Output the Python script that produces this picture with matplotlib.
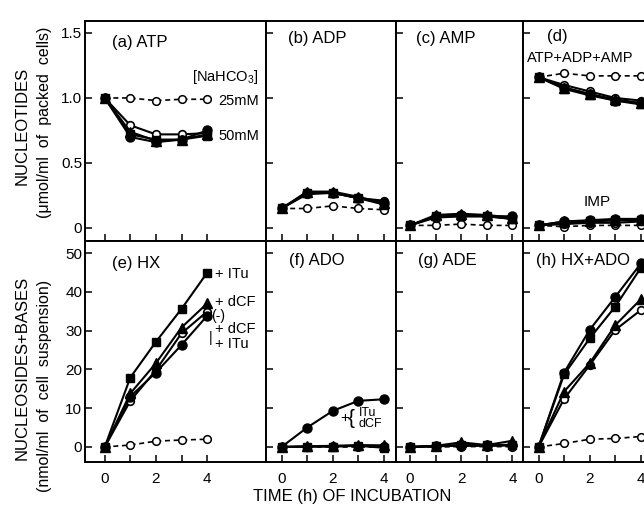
import matplotlib
matplotlib.use("Agg")
import matplotlib.pyplot as plt

plt.rcParams['font.family'] = ['Liberation Sans Narrow', 'Liberation Sans', 'DejaVu Sans']
plt.rcParams['mathtext.default'] = 'regular'

# incubation time (h)
time = [0, 1, 2, 3, 4]

# nucleotides (umol/ml packed cells)
atp_25 = [1.00, 1.00, 0.98, 0.99, 0.99]
atp_none = [1.00, 0.79, 0.72, 0.72, 0.73]
atp_dcf = [1.00, 0.74, 0.67, 0.68, 0.72]
atp_itu = [1.00, 0.72, 0.68, 0.68, 0.71]
atp_both = [1.00, 0.70, 0.66, 0.68, 0.75]

adp_25 = [0.15, 0.15, 0.17, 0.15, 0.14]
adp_none = [0.15, 0.26, 0.27, 0.23, 0.21]
adp_dcf = [0.15, 0.28, 0.28, 0.24, 0.19]
adp_itu = [0.15, 0.27, 0.27, 0.23, 0.18]
adp_both = [0.15, 0.27, 0.27, 0.23, 0.19]

amp_25 = [0.02, 0.02, 0.03, 0.02, 0.02]
amp_none = [0.02, 0.08, 0.09, 0.09, 0.07]
amp_dcf = [0.02, 0.10, 0.11, 0.10, 0.08]
amp_itu = [0.02, 0.09, 0.09, 0.09, 0.07]
amp_both = [0.02, 0.09, 0.10, 0.09, 0.09]

total_25 = [1.16, 1.19, 1.17, 1.17, 1.17]
total_none = [1.16, 1.10, 1.05, 1.00, 0.98]
total_dcf = [1.16, 1.08, 1.03, 0.99, 0.96]
total_itu = [1.16, 1.07, 1.02, 0.98, 0.95]
total_both = [1.16, 1.08, 1.03, 0.98, 0.96]

imp_25 = [0.02, 0.01, 0.02, 0.02, 0.02]
imp_none = [0.02, 0.03, 0.04, 0.04, 0.05]
imp_dcf = [0.02, 0.05, 0.05, 0.06, 0.06]
imp_itu = [0.02, 0.04, 0.05, 0.06, 0.06]
imp_both = [0.02, 0.05, 0.06, 0.07, 0.07]

# nucleosides + bases (nmol/ml cell suspension)
hx_25 = [0, 0.5, 1.5, 1.8, 2.0]
hx_none = [0, 11.9, 19.8, 29.3, 34.9]
hx_dcf = [0, 13.8, 21.6, 30.8, 37.0]
hx_itu = [0, 17.9, 27.1, 35.6, 44.9]
hx_both = [0, 13.0, 19.2, 26.3, 33.8]

ado_25 = [0, 0, 0, 0, 0]
ado_none = [0, 0.1, 0.2, 0.3, 0.3]
ado_dcf = [0, 0.2, 0.3, 0.5, 0.4]
ado_itu = [0, 0.1, 0.1, 0.3, -0.2]
ado_both = [0, 5.0, 9.3, 11.9, 12.3]

ade_25 = [0, 0, 0.1, 0.1, 0.1]
ade_none = [0, 0.2, 0.3, 0.3, 0.4]
ade_dcf = [0, 0.3, 1.2, 0.5, 1.6]
ade_itu = [0, 0.3, 0.4, 0.4, 0.5]
ade_both = [0, 0.2, 0.5, 0.4, 0.6]

hxado_25 = [0, 0.9, 2.0, 2.2, 2.7]
hxado_none = [0, 12.4, 21.1, 30.2, 35.3]
hxado_dcf = [0, 14.3, 21.6, 31.4, 38.1]
hxado_itu = [0, 18.7, 28.0, 36.2, 46.2]
hxado_both = [0, 19.2, 30.2, 38.7, 47.3]

top_ticks = [0, 0.5, 1.0, 1.5]
top_ticklabels = ['0', '0.5', '1.0', '1.5']
bottom_ticks = [0, 10, 20, 30, 40, 50]
x_ticks = [0, 1, 2, 3, 4]
x_ticklabels = ['0', '', '2', '', '4']


def draw(ax, ctrl, none, dcf, itu, both):
    ax.plot(time, ctrl, color='black', lw=1.2, ls=(0, (3, 2.2)), marker='o',
            ms=5.5, mfc='white', mec='black', mew=1.1, zorder=3)
    ax.plot(time, none, color='black', lw=1.5, marker='o', ms=5.5,
            mfc='white', mec='black', mew=1.2, zorder=3)
    ax.plot(time, dcf, color='black', lw=1.5, marker='^', ms=6.5, zorder=4)
    ax.plot(time, itu, color='black', lw=1.5, marker='s', ms=6, zorder=4)
    ax.plot(time, both, color='black', lw=1.5, marker='o', ms=6.5, zorder=4)


fig = plt.figure(figsize=(6.44, 5.15), dpi=100)

# pixel layout: left edge, width, x of t=0
cols = [(85, 181, 104.7), (266, 130, 281.5), (396, 127, 410.0), (523, 128, 538.5)]
px_per_h = 25.6
W, H = 644, 515

axes = []
for row, (top, bot) in enumerate([(21, 241), (241, 462)]):
    row_axes = []
    for left, width, x0 in cols:
        ax = fig.add_axes([left / W, 1 - bot / H, width / W, (bot - top) / H])
        ax.set_xlim((left - x0) / px_per_h, (left + width - x0) / px_per_h)
        for s in ax.spines.values():
            s.set_linewidth(1.4)
        ax.tick_params(direction='in', length=5, width=1.1, labelsize=11,
                       top=False, right=False, pad=2)
        ax.set_xticks(x_ticks)
        if row == 0:
            ax.set_ylim(-0.1, 1.592)
            ax.set_yticks(top_ticks)
            ax.set_xticklabels([])
        else:
            ax.set_ylim(-3.87, 53.1)
            ax.set_yticks(bottom_ticks)
            ax.set_xticklabels(x_ticklabels)
            ax.tick_params(axis='x', pad=7)
        if left != 85:
            ax.set_yticklabels([])
        row_axes.append(ax)
    axes.append(row_axes)

axes[0][0].set_yticklabels(top_ticklabels)

ax_a, ax_b, ax_c, ax_d = axes[0]
ax_e, ax_f, ax_g, ax_h = axes[1]

draw(ax_a, atp_25, atp_none, atp_dcf, atp_itu, atp_both)
draw(ax_b, adp_25, adp_none, adp_dcf, adp_itu, adp_both)
draw(ax_c, amp_25, amp_none, amp_dcf, amp_itu, amp_both)
draw(ax_d, total_25, total_none, total_dcf, total_itu, total_both)
draw(ax_d, imp_25, imp_none, imp_dcf, imp_itu, imp_both)
draw(ax_e, hx_25, hx_none, hx_dcf, hx_itu, hx_both)
draw(ax_f, ado_25, ado_none, ado_dcf, ado_itu, ado_both)
draw(ax_g, ade_25, ade_none, ade_dcf, ade_itu, ade_both)
draw(ax_h, hxado_25, hxado_none, hxado_dcf, hxado_itu, hxado_both)

# panel titles
fs = 12
ax_a.text(0.28, 1.43, '(a) ATP', fontsize=fs, va='center')
ax_b.text(0.25, 1.46, '(b) ADP', fontsize=fs, va='center')
ax_c.text(0.25, 1.46, '(c) AMP', fontsize=fs, va='center')
ax_d.text(0.35, 1.47, '(d)', fontsize=fs, va='center')
ax_d.text(-0.45, 1.31, 'ATP+ADP+AMP', fontsize=10.5, va='center')
ax_d.text(1.75, 0.20, 'IMP', fontsize=11, va='center')
ax_e.text(0.28, 47.4, '(e) HX', fontsize=fs, va='center')
ax_f.text(0.3, 48.2, '(f) ADO', fontsize=fs, va='center')
ax_g.text(0.3, 48.2, '(g) ADE', fontsize=fs, va='center')
ax_h.text(-0.1, 48.2, '(h) HX+ADO', fontsize=fs, va='center')

# panel a labels
ax_a.text(3.4, 1.16, '[NaHCO$_3$]', fontsize=10.5, va='center')
ax_a.text(4.45, 0.98, '25mM', fontsize=10.5, va='center')
ax_a.text(4.45, 0.71, '50mM', fontsize=10.5, va='center')

# panel e labels
ax_e.text(4.3, 44.7, '+ ITu', fontsize=10.5, va='center')
ax_e.text(4.3, 37.4, '+ dCF', fontsize=10.5, va='center')
ax_e.text(4.15, 33.8, '(-)', fontsize=10, va='center')
ax_e.text(4.3, 30.3, '+ dCF', fontsize=10.5, va='center')
ax_e.text(4.3, 26.6, '+ ITu', fontsize=10.5, va='center')
ax_e.text(4.08, 28.2, '|', fontsize=10, va='center')

# panel f label
ax_f.text(2.3, 7.4, '+', fontsize=11, va='center')
ax_f.text(2.6, 7.4, '{', fontsize=15, va='center', family='Liberation Sans')
ax_f.text(3.02, 7.4, 'ITu\ndCF', fontsize=9, va='center', linespacing=0.9)

# axis labels
fig.text(22 / W, 1 - 126 / H, 'NUCLEOTIDES', rotation=90, fontsize=12,
         ha='center', va='center')
fig.text(45 / W, 1 - 122 / H, '(\u03bcmol/ml  of  packed  cells)', rotation=90,
         fontsize=11.5, ha='center', va='center')
fig.text(22 / W, 1 - 368 / H, 'NUCLEOSIDES+BASES', rotation=90, fontsize=12,
         ha='center', va='center')
fig.text(45 / W, 1 - 386 / H, '(nmol/ml  of  cell  suspension)', rotation=90,
         fontsize=11.5, ha='center', va='center')
fig.text(352 / W, 1 - 497 / H, 'TIME (h) OF INCUBATION', fontsize=12,
         ha='center', va='center')

fig.savefig('out.png', dpi=100)
